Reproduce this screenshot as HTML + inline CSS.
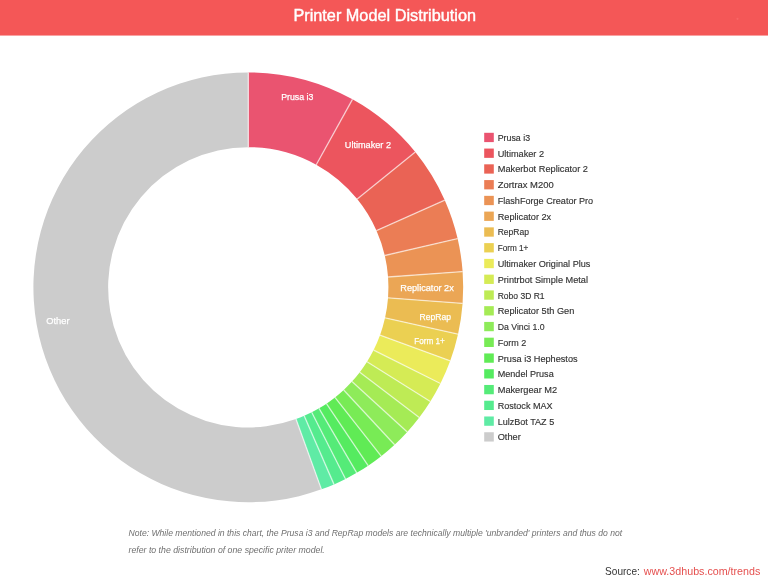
<!DOCTYPE html>
<html><head><meta charset="utf-8"><title>Printer Model Distribution</title>
<style>
html,body{margin:0;padding:0;background:#fff;}
body{width:768px;height:583px;position:relative;overflow:hidden;font-family:"Liberation Sans",sans-serif;}
svg{position:absolute;left:0;top:0;display:block;}
text{font-family:"Liberation Sans",sans-serif;}
.ttl{font-size:16px;fill:#fff;stroke:#fff;stroke-width:0.4px;}
.sl text{font-size:9.6px;fill:#fff;stroke:#fff;stroke-width:0.25px;}
.lg text{font-size:9.5px;fill:#333;stroke:#333;stroke-width:0.15px;}
.div line{stroke:#fff;stroke-width:1.35;stroke-opacity:0.62;}
.note text{font-size:8.8px;font-style:italic;fill:#707070;}
.src{font-size:11px;fill:#333;}
.lnk{font-size:11px;fill:#E5504F;}
</style></head><body>
<svg width="768" height="583" viewBox="0 0 768 583">
<rect x="0" y="0" width="768" height="35.55" fill="#F45757"/><circle cx="737.5" cy="18.8" r="1.1" fill="#FB7070" opacity="0.6"/>
<text class="ttl" x="293.4" y="21" textLength="182.6" lengthAdjust="spacingAndGlyphs">Printer Model Distribution</text>
<g><path d="M248.30 72.40A214.9 214.9 0 0 1 352.49 99.34L316.25 164.72A140.15 140.15 0 0 0 248.30 147.15Z" fill="#EA5470"/><path d="M352.49 99.34A214.9 214.9 0 0 1 415.31 152.06L357.22 199.10A140.15 140.15 0 0 0 316.25 164.72Z" fill="#EC555E"/><path d="M415.31 152.06A214.9 214.9 0 0 1 444.77 200.24L376.43 230.52A140.15 140.15 0 0 0 357.22 199.10Z" fill="#EA6355"/><path d="M444.77 200.24A214.9 214.9 0 0 1 457.61 238.59L384.80 255.53A140.15 140.15 0 0 0 376.43 230.52Z" fill="#EB7D55"/><path d="M457.61 238.59A214.9 214.9 0 0 1 462.62 271.56L388.07 277.04A140.15 140.15 0 0 0 384.80 255.53Z" fill="#EB9355"/><path d="M462.62 271.56A214.9 214.9 0 0 1 462.60 303.41L388.06 297.81A140.15 140.15 0 0 0 388.07 277.04Z" fill="#EBA655"/><path d="M462.60 303.41A214.9 214.9 0 0 1 458.02 334.18L385.07 317.87A140.15 140.15 0 0 0 388.06 297.81Z" fill="#EBBC52"/><path d="M458.02 334.18A214.9 214.9 0 0 1 450.24 360.80L380.00 335.23A140.15 140.15 0 0 0 385.07 317.87Z" fill="#EBD052"/><path d="M450.24 360.80A214.9 214.9 0 0 1 440.45 383.52L373.62 350.05A140.15 140.15 0 0 0 380.00 335.23Z" fill="#EBEB5A"/><path d="M440.45 383.52A214.9 214.9 0 0 1 430.35 401.50L367.02 361.78A140.15 140.15 0 0 0 373.62 350.05Z" fill="#D5EB55"/><path d="M430.35 401.50A214.9 214.9 0 0 1 419.25 417.53L359.79 372.23A140.15 140.15 0 0 0 367.02 361.78Z" fill="#BEEB55"/><path d="M419.25 417.53A214.9 214.9 0 0 1 407.25 431.93L351.96 381.62A140.15 140.15 0 0 0 359.79 372.23Z" fill="#A5EB55"/><path d="M407.25 431.93A214.9 214.9 0 0 1 394.59 444.72L343.70 389.97A140.15 140.15 0 0 0 351.96 381.62Z" fill="#8EEB5A"/><path d="M394.59 444.72A214.9 214.9 0 0 1 381.20 456.18L334.97 397.44A140.15 140.15 0 0 0 343.70 389.97Z" fill="#78EB55"/><path d="M381.20 456.18A214.9 214.9 0 0 1 368.16 465.67L326.47 403.63A140.15 140.15 0 0 0 334.97 397.44Z" fill="#60EB55"/><path d="M368.16 465.67A214.9 214.9 0 0 1 356.72 472.84L319.01 408.30A140.15 140.15 0 0 0 326.47 403.63Z" fill="#55EB60"/><path d="M356.72 472.84A214.9 214.9 0 0 1 345.53 478.95L311.71 412.29A140.15 140.15 0 0 0 319.01 408.30Z" fill="#55EB78"/><path d="M345.53 478.95A214.9 214.9 0 0 1 333.99 484.38L304.18 415.83A140.15 140.15 0 0 0 311.71 412.29Z" fill="#55EB8E"/><path d="M333.99 484.38A214.9 214.9 0 0 1 321.45 489.37L296.00 419.08A140.15 140.15 0 0 0 304.18 415.83Z" fill="#5FEBA5"/><path d="M321.45 489.37A214.9 214.9 0 1 1 248.30 72.40L248.30 147.15A140.15 140.15 0 1 0 296.00 419.08Z" fill="#CCCCCC"/></g>
<g class="div"><line x1="352.49" y1="99.34" x2="316.25" y2="164.72"/><line x1="415.31" y1="152.06" x2="357.22" y2="199.10"/><line x1="444.77" y1="200.24" x2="376.43" y2="230.52"/><line x1="457.61" y1="238.59" x2="384.80" y2="255.53"/><line x1="462.62" y1="271.56" x2="388.07" y2="277.04"/><line x1="462.60" y1="303.41" x2="388.06" y2="297.81"/><line x1="458.02" y1="334.18" x2="385.07" y2="317.87"/><line x1="450.24" y1="360.80" x2="380.00" y2="335.23"/><line x1="440.45" y1="383.52" x2="373.62" y2="350.05"/><line x1="430.35" y1="401.50" x2="367.02" y2="361.78"/><line x1="419.25" y1="417.53" x2="359.79" y2="372.23"/><line x1="407.25" y1="431.93" x2="351.96" y2="381.62"/><line x1="394.59" y1="444.72" x2="343.70" y2="389.97"/><line x1="381.20" y1="456.18" x2="334.97" y2="397.44"/><line x1="368.16" y1="465.67" x2="326.47" y2="403.63"/><line x1="356.72" y1="472.84" x2="319.01" y2="408.30"/><line x1="345.53" y1="478.95" x2="311.71" y2="412.29"/><line x1="333.99" y1="484.38" x2="304.18" y2="415.83"/><line x1="321.45" y1="489.37" x2="296.00" y2="419.08"/><line x1="248.30" y1="72.40" x2="248.30" y2="147.15"/></g>
<g class="sl"><text x="281.20" y="100.4" textLength="32.2" lengthAdjust="spacingAndGlyphs">Prusa i3</text><text x="344.80" y="147.7" textLength="46.2" lengthAdjust="spacingAndGlyphs">Ultimaker 2</text><text x="400.30" y="290.9" textLength="53.5" lengthAdjust="spacingAndGlyphs">Replicator 2x</text><text x="419.60" y="319.6" textLength="31.4" lengthAdjust="spacingAndGlyphs">RepRap</text><text x="414.30" y="343.5" textLength="30.6" lengthAdjust="spacingAndGlyphs">Form 1+</text><text x="46.20" y="324.0" textLength="23.3" lengthAdjust="spacingAndGlyphs">Other</text></g>
<g><rect x="484.2" y="132.80" width="9.6" height="9.3" fill="#EA5470"/><rect x="484.2" y="148.56" width="9.6" height="9.3" fill="#EC555E"/><rect x="484.2" y="164.32" width="9.6" height="9.3" fill="#EA6355"/><rect x="484.2" y="180.08" width="9.6" height="9.3" fill="#EB7D55"/><rect x="484.2" y="195.84" width="9.6" height="9.3" fill="#EB9355"/><rect x="484.2" y="211.60" width="9.6" height="9.3" fill="#EBA655"/><rect x="484.2" y="227.36" width="9.6" height="9.3" fill="#EBBC52"/><rect x="484.2" y="243.12" width="9.6" height="9.3" fill="#EBD052"/><rect x="484.2" y="258.88" width="9.6" height="9.3" fill="#EBEB5A"/><rect x="484.2" y="274.64" width="9.6" height="9.3" fill="#D5EB55"/><rect x="484.2" y="290.40" width="9.6" height="9.3" fill="#BEEB55"/><rect x="484.2" y="306.16" width="9.6" height="9.3" fill="#A5EB55"/><rect x="484.2" y="321.92" width="9.6" height="9.3" fill="#8EEB5A"/><rect x="484.2" y="337.68" width="9.6" height="9.3" fill="#78EB55"/><rect x="484.2" y="353.44" width="9.6" height="9.3" fill="#60EB55"/><rect x="484.2" y="369.20" width="9.6" height="9.3" fill="#55EB60"/><rect x="484.2" y="384.96" width="9.6" height="9.3" fill="#55EB78"/><rect x="484.2" y="400.72" width="9.6" height="9.3" fill="#55EB8E"/><rect x="484.2" y="416.48" width="9.6" height="9.3" fill="#5FEBA5"/><rect x="484.2" y="432.24" width="9.6" height="9.3" fill="#CCCCCC"/></g>
<g class="lg"><text x="497.7" y="140.90" textLength="32.4" lengthAdjust="spacingAndGlyphs">Prusa i3</text><text x="497.7" y="156.66" textLength="46.4" lengthAdjust="spacingAndGlyphs">Ultimaker 2</text><text x="497.7" y="172.42" textLength="90.3" lengthAdjust="spacingAndGlyphs">Makerbot Replicator 2</text><text x="497.7" y="188.18" textLength="56.0" lengthAdjust="spacingAndGlyphs">Zortrax M200</text><text x="497.7" y="203.94" textLength="95.5" lengthAdjust="spacingAndGlyphs">FlashForge Creator Pro</text><text x="497.7" y="219.70" textLength="53.5" lengthAdjust="spacingAndGlyphs">Replicator 2x</text><text x="497.7" y="235.46" textLength="31.3" lengthAdjust="spacingAndGlyphs">RepRap</text><text x="497.7" y="251.22" textLength="30.7" lengthAdjust="spacingAndGlyphs">Form 1+</text><text x="497.7" y="266.98" textLength="92.7" lengthAdjust="spacingAndGlyphs">Ultimaker Original Plus</text><text x="497.7" y="282.74" textLength="90.3" lengthAdjust="spacingAndGlyphs">Printrbot Simple Metal</text><text x="497.7" y="298.50" textLength="46.9" lengthAdjust="spacingAndGlyphs">Robo 3D R1</text><text x="497.7" y="314.26" textLength="76.6" lengthAdjust="spacingAndGlyphs">Replicator 5th Gen</text><text x="497.7" y="330.02" textLength="46.9" lengthAdjust="spacingAndGlyphs">Da Vinci 1.0</text><text x="497.7" y="345.78" textLength="28.5" lengthAdjust="spacingAndGlyphs">Form 2</text><text x="497.7" y="361.54" textLength="79.9" lengthAdjust="spacingAndGlyphs">Prusa i3 Hephestos</text><text x="497.7" y="377.30" textLength="56.0" lengthAdjust="spacingAndGlyphs">Mendel Prusa</text><text x="497.7" y="393.06" textLength="59.5" lengthAdjust="spacingAndGlyphs">Makergear M2</text><text x="497.7" y="408.82" textLength="54.9" lengthAdjust="spacingAndGlyphs">Rostock MAX</text><text x="497.7" y="424.58" textLength="56.5" lengthAdjust="spacingAndGlyphs">LulzBot TAZ 5</text><text x="497.7" y="440.34" textLength="23.1" lengthAdjust="spacingAndGlyphs">Other</text></g>
<g class="note"><text x="128.5" y="535.9" textLength="493.7" lengthAdjust="spacingAndGlyphs">Note: While mentioned in this chart, the Prusa i3 and RepRap models are technically multiple 'unbranded' printers and thus do not</text>
<text x="128.5" y="552.6" textLength="196.3" lengthAdjust="spacingAndGlyphs">refer to the distribution of one specific priter model.</text></g>
<text class="src" x="605.1" y="574.7" textLength="34.7" lengthAdjust="spacingAndGlyphs">Source:</text>
<text class="lnk" x="643.8" y="574.7" textLength="116.5" lengthAdjust="spacingAndGlyphs">www.3dhubs.com/trends</text>
</svg>
</body></html>
